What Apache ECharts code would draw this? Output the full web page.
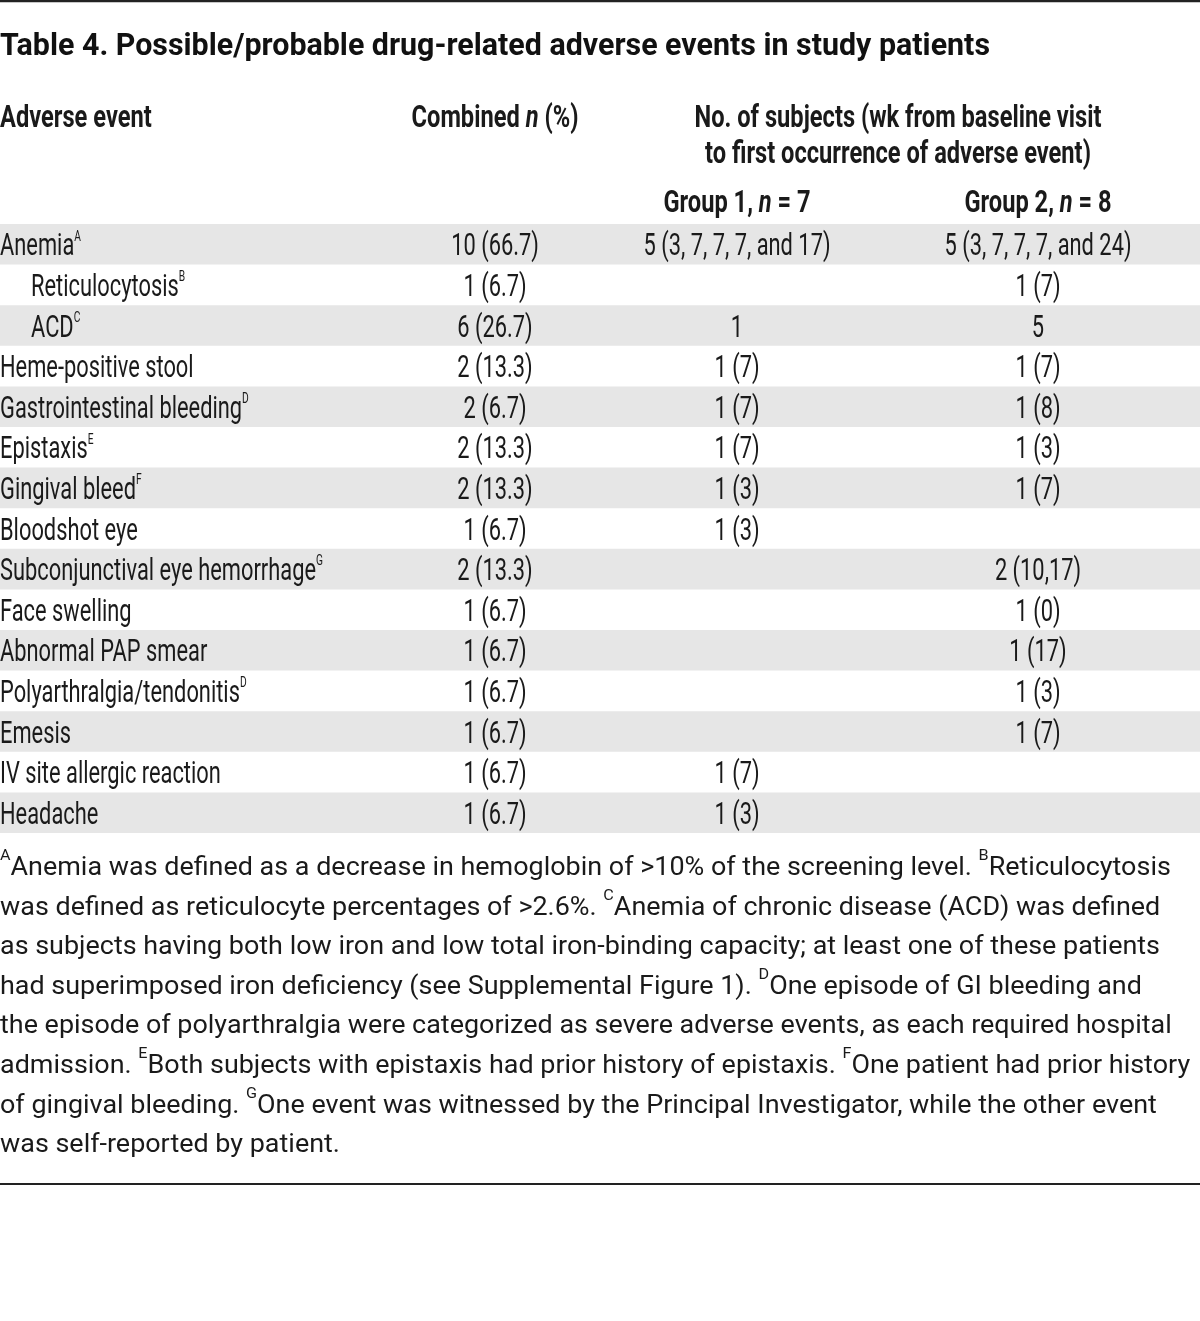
<!DOCTYPE html>
<html>
<head>
<meta charset="utf-8">
<script src="https://cdn.jsdelivr.net/npm/echarts@6/dist/echarts.min.js"></script>
<style>
  html, body { margin: 0; padding: 0; background: #fff; }
  #chart-root { width: 1200px; height: 1321px; }
</style>
</head>
<body>
<div id="chart-root"></div>
<script>
// table content
const titleText = 'Table 4. Possible/probable drug-related adverse events in study patients'
const events = ['Anemia', 'Reticulocytosis', 'ACD', 'Heme-positive stool', 'Gastrointestinal bleeding',
  'Epistaxis', 'Gingival bleed', 'Bloodshot eye', 'Subconjunctival eye hemorrhage', 'Face swelling',
  'Abnormal PAP smear', 'Polyarthralgia/tendonitis', 'Emesis', 'IV site allergic reaction', 'Headache']
const eventNotes = ['A', 'B', 'C', '', 'D', 'E', 'F', '', 'G', '', '', 'D', '', '', '']
const subEvents = ['Reticulocytosis', 'ACD']
const combined = ['10 (66.7)', '1 (6.7)', '6 (26.7)', '2 (13.3)', '2 (6.7)', '2 (13.3)', '2 (13.3)',
  '1 (6.7)', '2 (13.3)', '1 (6.7)', '1 (6.7)', '1 (6.7)', '1 (6.7)', '1 (6.7)', '1 (6.7)']
const group1 = ['5 (3, 7, 7, 7, and 17)', '', '1', '1 (7)', '1 (7)', '1 (7)', '1 (3)', '1 (3)',
  '', '', '', '', '', '1 (7)', '1 (3)']
const group2 = ['5 (3, 7, 7, 7, and 24)', '1 (7)', '5', '1 (7)', '1 (8)', '1 (3)', '1 (7)', '',
  '2 (10,17)', '1 (0)', '1 (17)', '1 (3)', '1 (7)', '', '']
const headEvent = 'Adverse event'
const headCombined = '{b|Combined }{i|n}{b| (%)}'
const headSubjects = ['No. of subjects (wk from baseline visit', 'to first occurrence of adverse event)']
const headGroups = ['{b|Group 1, }{i|n}{b| = 7}', '{b|Group 2, }{i|n}{b| = 8}']
// ^X marks a superscript footnote letter
const footnoteLines = [
  '^AAnemia was defined as a decrease in hemoglobin of >10% of the screening level. ^BReticulocytosis',
  'was defined as reticulocyte percentages of >2.6%. ^CAnemia of chronic disease (ACD) was defined',
  'as subjects having both low iron and low total iron-binding capacity; at least one of these patients',
  'had superimposed iron deficiency (see Supplemental Figure 1). ^DOne episode of GI bleeding and',
  'the episode of polyarthralgia were categorized as severe adverse events, as each required hospital',
  'admission. ^EBoth subjects with epistaxis had prior history of epistaxis. ^FOne patient had prior history',
  'of gingival bleeding. ^GOne event was witnessed by the Principal Investigator, while the other event',
  'was self-reported by patient.'
]

// layout
const FONT = 'Roboto'
const INK = '#1a1a1a'
const STRIPE = '#e6e6e6'
const colCombined = 495
const colGroup1 = 737
const colGroup2 = 1038
const colSubjects = 898
const subIndent = 31
const textDrop = 3

// squeeze the font horizontally so widths follow the condensed original
const ctx = document.createElement('canvas').getContext('2d')
function textWidth (txt, size, weight) {
  ctx.font = (weight || 'normal') + ' ' + size + 'px ' + FONT
  return ctx.measureText(txt).width
}
const bodySize = 32
const bodyScale = 316 / textWidth('Subconjunctival eye hemorrhage', bodySize)
const headSize = 32
const headScale = 407 / textWidth(headSubjects[0], headSize, 'bold')
const titleSize = 31
const titleScale = 990 / textWidth(titleText, titleSize, 'bold')
const noteSize = 25
const noteScale = 1160 / textWidth(footnoteLines[2], noteSize)

const bodyRich = {
  t: {fontSize: bodySize, fontFamily: FONT, color: INK, lineHeight: 36},
  s: {fontSize: 15, fontFamily: FONT, color: INK, lineHeight: 19, verticalAlign: 'top'}
}
const headRich = {
  b: {fontSize: headSize, fontFamily: FONT, fontWeight: 'bold', color: INK},
  i: {fontSize: headSize, fontFamily: FONT, fontWeight: 'bold', fontStyle: 'italic', color: INK}
}

function cell (x, y, text, align) {
  return {
    type: 'text',
    x: x,
    y: y + textDrop,
    scaleX: bodyScale,
    silent: true,
    style: {
      text: text,
      align: align,
      verticalAlign: 'middle',
      fontSize: bodySize,
      fontFamily: FONT,
      fill: INK,
      rich: bodyRich
    }
  }
}

function renderRow (params, api) {
  const row = api.value(1)
  const left = api.coord([0, row])
  const right = api.coord([1200, row])
  const bandH = api.size([0, 1])[1]
  const cy = left[1]
  const children = []
  if (row % 2 === 0) {
    children.push({
      type: 'rect',
      shape: {x: left[0], y: cy - bandH / 2, width: right[0] - left[0], height: bandH},
      style: {fill: STRIPE}
    })
  }
  const name = events[row]
  const nx = api.coord([subEvents.indexOf(name) >= 0 ? subIndent : 0, row])[0]
  let label = '{t|' + name + '}'
  if (eventNotes[row]) label += '{s|' + eventNotes[row] + '}'
  children.push(cell(nx, cy, label, 'left'))
  children.push(cell(api.coord([colCombined, row])[0], cy, combined[row], 'center'))
  if (group1[row]) children.push(cell(api.coord([colGroup1, row])[0], cy, group1[row], 'center'))
  if (group2[row]) children.push(cell(api.coord([colGroup2, row])[0], cy, group2[row], 'center'))
  return {type: 'group', children: children}
}

function headText (x, y, text, align) {
  return {
    type: 'text',
    x: x,
    y: y + textDrop,
    scaleX: headScale,
    silent: true,
    style: {
      text: text,
      align: align,
      verticalAlign: 'middle',
      fontSize: headSize,
      fontFamily: FONT,
      fontWeight: 'bold',
      fill: INK,
      rich: headRich
    }
  }
}

const noteText = footnoteLines.map(line =>
  line.split(/\^([A-Z])/).map((part, k) => (k % 2 ? '{s|' + part + '}' : (part ? '{f|' + part + '}' : ''))).join('')
).join('\n')

const chart = echarts.init(document.getElementById('chart-root'))
const option = {
  backgroundColor: '#fff',
  animation: false,
  grid: {left: 0, right: 0, top: 224, height: 609},
  xAxis: {type: 'value', min: 0, max: 1200, show: false},
  yAxis: {type: 'category', data: events, inverse: true, show: false},
  graphic: [
    {type: 'line', shape: {x1: 0, y1: 1, x2: 1200, y2: 1}, style: {stroke: '#222', lineWidth: 2.5}},
    {
      type: 'text', x: 0, y: 47, scaleX: titleScale,
      style: {text: titleText, align: 'left', verticalAlign: 'middle', fontSize: titleSize,
        fontFamily: FONT, fontWeight: 'bold', fill: '#111'}
    },
    headText(0, 116, '{b|' + headEvent + '}', 'left'),
    headText(colCombined, 116, headCombined, 'center'),
    headText(colSubjects, 116, '{b|' + headSubjects[0] + '}', 'center'),
    headText(colSubjects, 152, '{b|' + headSubjects[1] + '}', 'center'),
    headText(colGroup1, 201, headGroups[0], 'center'),
    headText(colGroup2, 201, headGroups[1], 'center'),
    {
      type: 'text', x: 0, y: 849, scaleX: noteScale,
      style: {
        text: noteText, align: 'left', verticalAlign: 'top',
        fontSize: noteSize, fontFamily: FONT, fill: INK,
        rich: {
          f: {fontSize: noteSize, fontFamily: FONT, color: INK, lineHeight: 39.6},
          s: {fontSize: 15, fontFamily: FONT, color: INK, lineHeight: 22, verticalAlign: 'top'}
        }
      }
    },
    {type: 'line', shape: {x1: 0, y1: 1184, x2: 1200, y2: 1184}, style: {stroke: '#222', lineWidth: 2}}
  ],
  series: [
    {
      name: 'rows',
      type: 'custom',
      renderItem: renderRow,
      encode: {x: 0, y: 1},
      silent: true,
      clip: false,
      data: events.map((e, i) => [0, i])
    }
  ]
}
chart.setOption(option)
</script>
</body>
</html>
